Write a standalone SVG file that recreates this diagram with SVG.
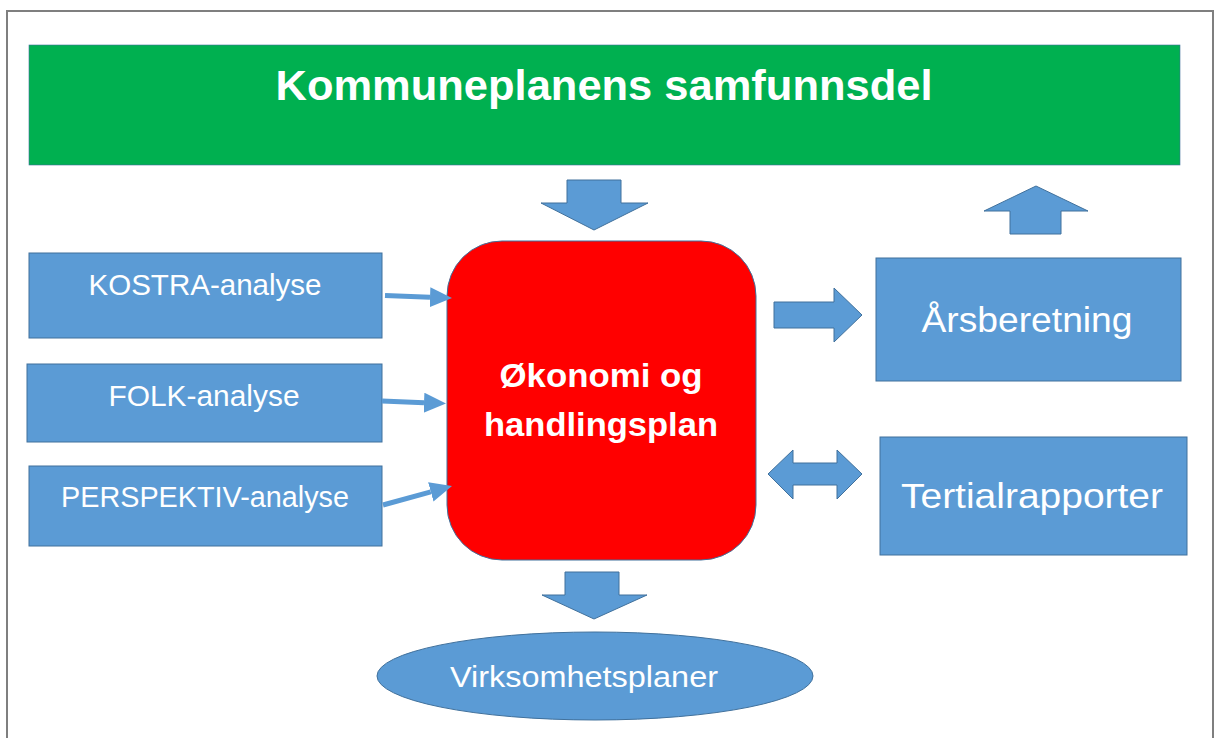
<svg xmlns="http://www.w3.org/2000/svg" width="1218" height="738" viewBox="0 0 1218 738">
<defs>
<style>
.blue{fill:#5b9bd5;stroke:#41719c;stroke-width:1}
.lbl{fill:#ffffff;font-family:"Liberation Sans",Arial,sans-serif;text-anchor:middle}
.bold{font-weight:bold}
.conn{stroke:#5b9bd5;stroke-width:5;fill:none}
</style>
<marker id="ah" markerUnits="userSpaceOnUse" markerWidth="24" markerHeight="22" refX="0" refY="10" orient="auto">
<path d="M0,0 L22,10 L0,20 z" fill="#5b9bd5"/>
</marker>
</defs>
<rect x="0" y="0" width="1218" height="738" fill="#ffffff"/>
<rect x="7" y="11" width="1206" height="740" fill="#ffffff" stroke="#7f7f7f" stroke-width="2"/>

<g id="samfunnsdel">
<rect x="29" y="45" width="1151" height="120" fill="#00b050" stroke="#41719c" stroke-width="0.6"/>
<text class="lbl bold" x="604" y="100" font-size="43" textLength="657" lengthAdjust="spacingAndGlyphs">Kommuneplanens samfunnsdel</text>
</g>

<g id="kostra">
<rect class="blue" x="29" y="253" width="353" height="85"/>
<text class="lbl" x="205" y="295" font-size="29" textLength="233" lengthAdjust="spacingAndGlyphs">KOSTRA-analyse</text>
</g>
<g id="folk">
<rect class="blue" x="27" y="364" width="355" height="78"/>
<text class="lbl" x="204" y="406" font-size="29" textLength="191" lengthAdjust="spacingAndGlyphs">FOLK-analyse</text>
</g>
<g id="perspektiv">
<rect class="blue" x="29" y="466" width="353" height="80"/>
<text class="lbl" x="205" y="507" font-size="29" textLength="288" lengthAdjust="spacingAndGlyphs">PERSPEKTIV-analyse</text>
</g>

<g id="okonomi">
<rect x="447" y="241" width="309" height="319" rx="55" ry="55" fill="#ff0000" stroke="#41719c" stroke-width="1"/>
<text class="lbl bold" x="601" y="387" font-size="34" textLength="203" lengthAdjust="spacingAndGlyphs">Økonomi og</text>
<text class="lbl bold" x="601" y="436" font-size="34" textLength="234" lengthAdjust="spacingAndGlyphs">handlingsplan</text>
</g>

<g id="arsberetning">
<rect class="blue" x="876" y="258" width="305" height="123"/>
<text class="lbl" x="1027" y="332" font-size="35" textLength="211" lengthAdjust="spacingAndGlyphs">Årsberetning</text>
</g>
<g id="tertial">
<rect class="blue" x="880" y="437" width="307" height="118"/>
<text class="lbl" x="1032" y="508" font-size="35" textLength="262" lengthAdjust="spacingAndGlyphs">Tertialrapporter</text>
</g>

<g id="virksomhet">
<ellipse class="blue" cx="595" cy="676" rx="218" ry="44"/>
<text class="lbl" x="584" y="687" font-size="30" textLength="268" lengthAdjust="spacingAndGlyphs">Virksomhetsplaner</text>
</g>

<g id="connectors">
<polygon class="blue" points="567,180 621,180 621,203 648,203 594,230 541,203 567,203"/>
<polygon class="blue" points="1010,234 1061,234 1061,211 1088,211 1036,186 984,211 1010,211"/>
<polygon class="blue" points="774,302 834,302 834,288 862,315 834,342 834,328 774,328"/>
<polygon class="blue" points="768,474 793,450 793,463 837,463 837,450 862,474 837,499 837,485 793,485 793,499"/>
<polygon class="blue" points="565,572 619,572 619,595 647,595 594,619 542,595 565,595"/>
<path class="conn" d="M385,295.5 L430,297.2" marker-end="url(#ah)"/>
<path class="conn" d="M382,401 L424,402.7" marker-end="url(#ah)"/>
<path class="conn" d="M383,505 L430.8,491.8" marker-end="url(#ah)"/>
</g>
</svg>
